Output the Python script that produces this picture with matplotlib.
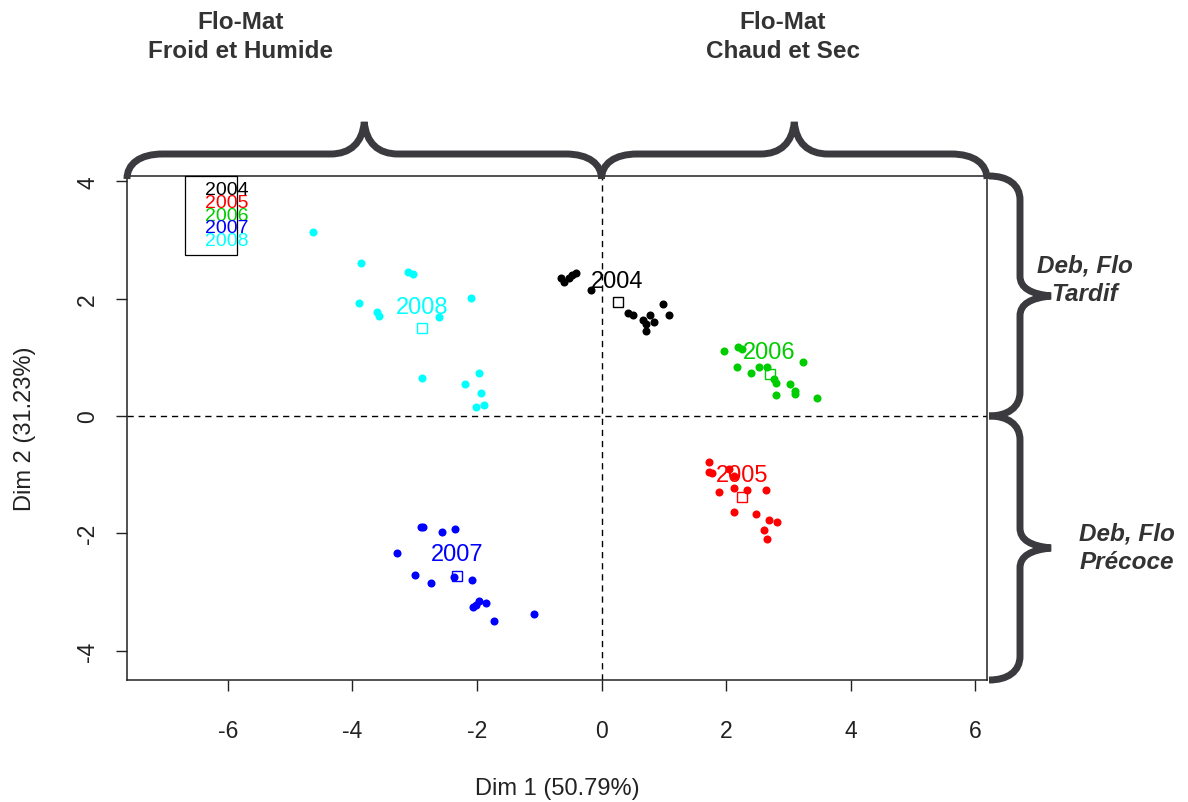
import numpy as np
import matplotlib
matplotlib.use("Agg")
import matplotlib.pyplot as plt
from matplotlib.path import Path
from matplotlib.patches import PathPatch, Rectangle
from matplotlib.transforms import IdentityTransform

plt.rcParams['font.family'] = ['Liberation Sans', 'DejaVu Sans']
plt.rcParams['axes.unicode_minus'] = False

# Individual coordinates on the first two PCA dimensions, by year
years = ["2004", "2005", "2006", "2007", "2008"]
colors = ["black", "#FF0000", "#00CD00", "#0000FF", "#00FFFF"]

x_2004 = [-0.65, -0.60, -0.53, -0.48, -0.41, -0.17, 0.43, 0.51, 0.66, 0.71, 0.78, 0.84, 0.71, 0.98, 1.09]
y_2004 = [2.36, 2.29, 2.35, 2.40, 2.44, 2.14, 1.75, 1.72, 1.63, 1.57, 1.72, 1.60, 1.45, 1.91, 1.72]

x_2005 = [1.73, 1.73, 1.77, 2.05, 2.13, 2.12, 1.89, 2.33, 2.64, 2.12, 2.48, 2.69, 2.82, 2.61, 2.66]
y_2005 = [-0.78, -0.96, -0.97, -0.90, -1.03, -1.23, -1.30, -1.26, -1.27, -1.63, -1.67, -1.78, -1.81, -1.94, -2.09]

x_2006 = [1.96, 2.19, 2.25, 2.17, 2.40, 2.53, 2.66, 2.77, 2.80, 3.24, 3.03, 3.11, 3.11, 2.80, 3.46]
y_2006 = [1.11, 1.17, 1.14, 0.83, 0.73, 0.83, 0.84, 0.63, 0.56, 0.92, 0.55, 0.43, 0.38, 0.36, 0.31]

x_2007 = [-2.90, -2.86, -2.56, -2.35, -3.29, -3.00, -2.74, -2.37, -2.08, -2.06, -2.01, -1.96, -1.85, -1.72, -1.08]
y_2007 = [-1.90, -1.90, -1.97, -1.92, -2.34, -2.71, -2.84, -2.75, -2.79, -3.25, -3.23, -3.15, -3.18, -3.49, -3.38]

x_2008 = [-4.64, -3.86, -3.11, -3.02, -3.89, -3.60, -3.57, -2.61, -2.09, -2.89, -2.20, -1.96, -1.94, -2.01, -1.88]
y_2008 = [3.14, 2.60, 2.45, 2.42, 1.93, 1.78, 1.71, 1.69, 2.01, 0.65, 0.55, 0.73, 0.39, 0.15, 0.19]

xs = [x_2004, x_2005, x_2006, x_2007, x_2008]
ys = [y_2004, y_2005, y_2006, y_2007, y_2008]

x_ticks = [-6, -4, -2, 0, 2, 4, 6]
y_ticks = [-4, -2, 0, 2, 4]
x_label = "Dim 1 (50.79%)"
y_label = "Dim 2 (31.23%)"

W, H, DPI = 1188, 803, 100
fig = plt.figure(figsize=(W / DPI, H / DPI), dpi=DPI)
fig.patch.set_facecolor("white")

# plot region in pixels: left 127, right 987, top 177, bottom 681
ax = fig.add_axes([127 / W, (H - 681) / H, 860 / W, 504 / H])
ax.set_xlim(-7.62, 6.19)
ax.set_ylim(-4.50, 4.09)

ax.axhline(0, color="black", lw=1.0, linestyle=(0, (4.5, 3.5)), zorder=1)
ax.axvline(0, color="black", lw=1.0, linestyle=(0, (4.5, 3.5)), zorder=1)

for yr, col, xv, yv in zip(years, colors, xs, ys):
    ax.plot(xv, yv, linestyle="none", marker="o", ms=5.8, color=col, mew=0, zorder=3)
    cx, cy = np.mean(xv), np.mean(yv)
    ax.plot([cx], [cy], linestyle="none", marker="s", ms=7, mfc="none", mec=col, mew=1.0, zorder=4)
    ax.annotate(yr, (cx, cy), xytext=(0, 15.5), textcoords="offset points",
                ha="center", va="center", color=col, fontsize=17, zorder=5)

# legend box in the top-left corner
ax.add_patch(Rectangle((0.0674, 0.843), 0.0605, 0.157, transform=ax.transAxes,
                       fill=False, edgecolor="black", lw=0.9, zorder=6, clip_on=False))
for i, (yr, col) in enumerate(zip(years, colors)):
    ax.text(0.0907, 0.9725 - i * 0.0252, yr, transform=ax.transAxes, color=col,
            fontsize=14, ha="left", va="center", zorder=7)

ax.set_xticks(x_ticks)
ax.set_yticks(y_ticks)
ax.tick_params(direction="out", length=8, width=1.0, color="#222222",
               labelsize=16.5, labelcolor="#222222")
ax.tick_params(axis="x", pad=20)
ax.tick_params(axis="y", pad=12)
for lab in ax.get_yticklabels():
    lab.set_rotation(90)
    lab.set_va("center")
for sp in ax.spines.values():
    sp.set_linewidth(1.1)
    sp.set_color("#222222")

ax.set_xlabel(x_label, fontsize=17, color="#222222", labelpad=25)
ax.set_ylabel(y_label, fontsize=17, color="#222222", labelpad=29)

# ---- curly braces drawn in pixel space around the plot region ----
fig.canvas.draw()
BRACE_COLOR = "#3b3a3f"


def brace_path(a, b, base, bar, tip, r_end, r_mid, horizontal=True):
    """Curly brace from a to b along one axis, bulging by `bar` with a tip at `tip`."""
    m = (a + b) / 2.0
    s = 1 if b > a else -1
    pts = [
        (a, base),
        (a, base + bar * 0.6), (a + s * r_end * 0.35, base + bar), (a + s * r_end, base + bar),
        (m - s * r_mid, base + bar),
        (m - s * r_mid * 0.4, base + bar), (m - s * 2, base + bar + (tip - bar) * 0.35), (m, base + tip),
        (m + s * 2, base + bar + (tip - bar) * 0.35), (m + s * r_mid * 0.4, base + bar), (m + s * r_mid, base + bar),
        (b - s * r_end, base + bar),
        (b - s * r_end * 0.35, base + bar), (b, base + bar * 0.6), (b, base),
    ]
    codes = [Path.MOVETO,
             Path.CURVE4, Path.CURVE4, Path.CURVE4,
             Path.LINETO,
             Path.CURVE4, Path.CURVE4, Path.CURVE4,
             Path.CURVE4, Path.CURVE4, Path.CURVE4,
             Path.LINETO,
             Path.CURVE4, Path.CURVE4, Path.CURVE4]
    if not horizontal:
        pts = [(base_v, along) for (along, base_v) in pts]
    return Path(pts, codes)


tx = ax.transData
x_left, y_top = tx.transform((ax.get_xlim()[0], ax.get_ylim()[1]))
x_right, y_bot = tx.transform((ax.get_xlim()[1], ax.get_ylim()[0]))
x_zero, y_zero = tx.transform((0, 0))

paths = [
    brace_path(x_left, x_zero, y_top - 3, 25, 57, 36, 34, True),
    brace_path(x_zero, x_right, y_top - 3, 25, 57, 36, 34, True),
    brace_path(y_top, y_zero, x_right + 2, 31, 62, 24, 20, False),
    brace_path(y_zero, y_bot, x_right + 2, 31, 62, 24, 20, False),
]
for p in paths:
    fig.patches.append(PathPatch(p, transform=IdentityTransform(), fill=False,
                                 edgecolor=BRACE_COLOR, lw=5.0, capstyle="butt",
                                 joinstyle="miter", zorder=10))

# ---- annotations around the braces ----
txt_kw = dict(color="#333333", fontsize=17.5, fontweight="bold", ha="center",
              va="center", multialignment="center", linespacing=1.3)
fig.text(241 / W, 1 - 37 / H, "Flo-Mat\nFroid et Humide", **txt_kw)
fig.text(783 / W, 1 - 37 / H, "Flo-Mat\nChaud et Sec", **txt_kw)
fig.text(1085 / W, 1 - 280 / H, "Deb, Flo\nTardif", style="italic", **txt_kw)
fig.text(1127 / W, 1 - 548 / H, "Deb, Flo\nPrécoce", style="italic", **txt_kw)

fig.savefig("out.png", dpi=DPI, facecolor="white")
